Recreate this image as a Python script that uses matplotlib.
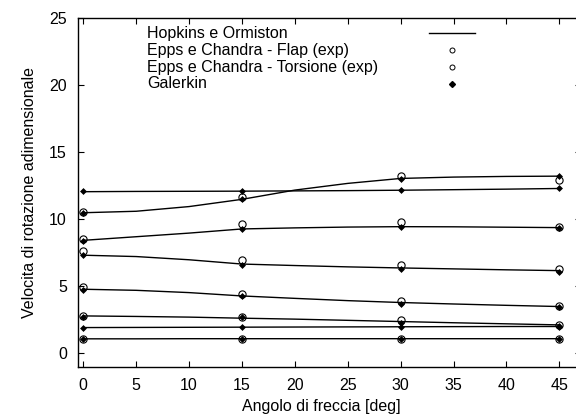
import matplotlib
matplotlib.use("Agg")
import matplotlib.pyplot as plt
import numpy as np

plt.rcParams['font.family'] = ['Liberation Sans', 'DejaVu Sans']

# Hopkins e Ormiston (theory curves)
angles_theory = [0, 5, 10, 15, 20, 25, 30, 35, 40, 45]
hopkins = [
    [12.06, 12.08, 12.09, 12.10, 12.12, 12.14, 12.17, 12.21, 12.25, 12.30],
    [10.49, 10.60, 10.95, 11.49, 12.18, 12.68, 13.05, 13.15, 13.20, 13.22],
    [8.43, 8.70, 8.97, 9.28, 9.36, 9.42, 9.45, 9.44, 9.41, 9.38],
    [7.32, 7.22, 6.98, 6.66, 6.55, 6.45, 6.37, 6.30, 6.23, 6.17],
    [4.78, 4.70, 4.53, 4.28, 4.10, 3.93, 3.79, 3.68, 3.58, 3.49],
    [2.79, 2.75, 2.70, 2.62, 2.55, 2.46, 2.37, 2.28, 2.20, 2.12],
    [1.92, 1.93, 1.94, 1.95, 1.96, 1.97, 1.98, 1.99, 2.00, 2.00],
    [1.08, 1.08, 1.09, 1.09, 1.09, 1.09, 1.09, 1.09, 1.09, 1.09],
]

angles_exp = [0, 15, 30, 45]
# Epps e Chandra - Flap (exp)
flap_exp = [
    [8.50, 9.63, 9.78, 9.45],
    [2.82, 2.72, 2.47, 2.10],
    [1.08, 1.10, 1.10, 1.10],
]
# Epps e Chandra - Torsione (exp)
torsione_exp = [
    [10.55, 11.69, 13.25, 12.93],
    [7.60, 7.00, 6.57, 6.32],
    [4.98, 4.43, 3.91, 3.54],
]
# Galerkin
galerkin = [
    [12.10, 12.10, 12.16, 12.30],
    [10.45, 11.50, 13.00, 13.22],
    [8.40, 9.25, 9.40, 9.33],
    [7.30, 6.60, 6.27, 6.10],
    [4.73, 4.28, 3.69, 3.44],
    [2.72, 2.70, 2.25, 2.07],
    [1.92, 1.95, 2.00, 2.00],
    [1.08, 1.10, 1.10, 1.10],
]

legend_labels = ["Hopkins e Ormiston", "Epps e Chandra - Flap (exp)",
                 "Epps e Chandra - Torsione (exp)", "Galerkin"]
x_ticks = [0, 5, 10, 15, 20, 25, 30, 35, 40, 45]
y_ticks = [0, 5, 10, 15, 20, 25]

W, H = 576, 417
fig = plt.figure(figsize=(W / 100, H / 100), dpi=100)
ax_l, ax_r, ax_t, ax_b = 78.0, 580.5, 18.3, 366.7
ax = fig.add_axes([ax_l / W, 1 - ax_b / H, (ax_r - ax_l) / W, (ax_b - ax_t) / H])

for ys in hopkins:
    ax.plot(angles_theory, ys, color='black', lw=1.0, zorder=2)
for ys in flap_exp + torsione_exp:
    ax.plot(angles_exp, ys, ls='none', marker='o', ms=5.2, mfc='none',
            mec='black', mew=0.8, zorder=3)
for ys in galerkin:
    ax.plot(angles_exp, ys, ls='none', marker='D', ms=3.0, mfc='black',
            mec='black', mew=0.5, zorder=4)

ax.set_xlim(-0.5, 47)
ax.set_ylim(-1, 25)
ax.set_xticks(x_ticks)
ax.set_yticks(y_ticks)
ax.tick_params(direction='in', length=4, width=0.8, top=True, right=True,
               labelsize=11.5, colors='black')
ax.tick_params(axis='x', pad=8)
ax.tick_params(axis='y', pad=8)
for s in ax.spines.values():
    s.set_linewidth(1.0)

ax.set_xlabel("Angolo di freccia [deg]", fontsize=11.5)
ax.xaxis.set_label_coords((321 - ax_l) / (ax_r - ax_l), -(407 - ax_b) / (ax_b - ax_t), transform=ax.transAxes)
ax.set_ylabel("Velocita di rotazione adimensionale", fontsize=11.5)
ax.yaxis.set_label_coords(-(ax_l - 30) / (ax_r - ax_l), 1 - (192 - ax_t) / (ax_b - ax_t))
ax.xaxis.label.set_va('center')
ax.yaxis.label.set_va('center')

# gnuplot-style key: left-justified text, samples on the right
def ax_x(px):
    return (px - ax_l) / (ax_r - ax_l)

def ax_y(py):
    return 1 - (py - ax_t) / (ax_b - ax_t)

rows = [33.3, 50.2, 67.0, 83.8]
for lab, r in zip(legend_labels, rows):
    ax.text(ax_x(147), ax_y(r), lab, transform=ax.transAxes, fontsize=11.5,
            ha='left', va='center')
ax.plot([ax_x(429.3), ax_x(474.7)], [ax_y(rows[0])] * 2, color='black', lw=1.0,
        transform=ax.transAxes, clip_on=False)
for r in rows[1:3]:
    ax.plot([ax_x(452)], [ax_y(r)], marker='o', ms=3.6, mfc='none', mec='black',
            mew=0.7, transform=ax.transAxes, clip_on=False)
ax.plot([ax_x(452)], [ax_y(rows[3])], marker='D', ms=3.0, mfc='black', mec='black',
        transform=ax.transAxes, clip_on=False)

fig.savefig("out.png", dpi=100)
